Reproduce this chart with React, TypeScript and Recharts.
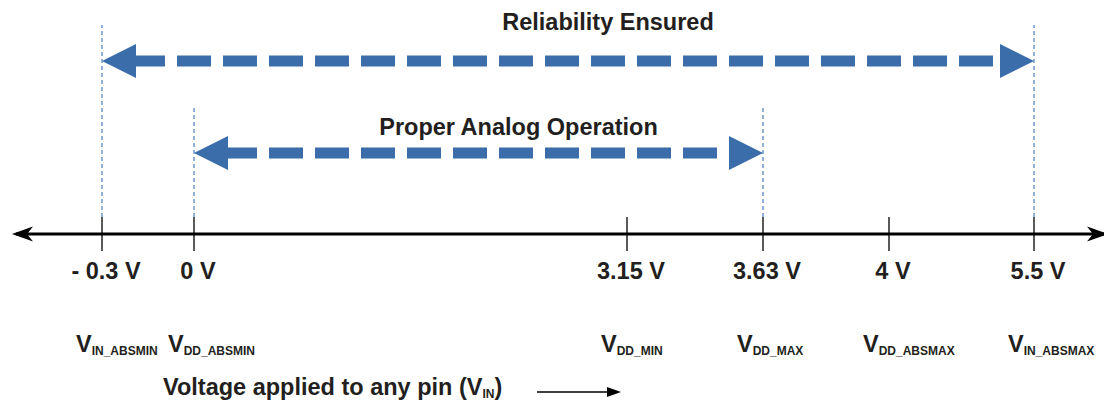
import React from 'react';
import { ComposedChart, XAxis, YAxis, ReferenceLine, Label } from 'recharts';

// The diagram is schematic (not to scale): each voltage sits at a slot along the axis.
const markerVoltages = ['- 0.3 V', '0 V', '3.15 V', '3.63 V', '4 V', '5.5 V'];
const markerSymbols = ['IN_ABSMIN', 'DD_ABSMIN', 'DD_MIN', 'DD_MAX', 'DD_ABSMAX', 'IN_ABSMAX'];
const markerSlots = [102, 194, 627, 763, 889, 1034];

// Ranges (indices into the markers)
const rangeTitles = ['Reliability Ensured', 'Proper Analog Operation'];
const rangeFrom = [0, 1];
const rangeTo = [5, 3];

const axisTitleText = 'Voltage applied to any pin (V';
const axisTitleSub = 'IN';

// layout / styling
const CHART_W = 1104;
const CHART_H = 402;
const AXIS_H = 168;
const AXIS_EXTENT = [12, 1108];
const RANGE_LEVEL = [173, 81];
const RANGE_GUIDE_TOP = [209, 127];
const RANGE_TITLE_DY = [31, 18];
const FONT = '"Liberation Sans", Arial, Helvetica, sans-serif';
const TEXT = '#231f20';
const BLUE = '#3a6daa';
const GUIDE = '#4a7ebb';
const BIG = 23.5;
const SUB = 12;

const MarkerTick = (props: any) => {
  const { x, y, payload } = props;
  const i = markerSlots.indexOf(payload.value);
  if (i < 0) return null;
  return (
    <g>
      <line x1={x} x2={x} y1={y - 17} y2={y + 17} stroke="#000" strokeWidth={1.3} />
      <text
        x={x + 4}
        y={y + 45}
        textAnchor="middle"
        fontFamily={FONT}
        fontWeight="bold"
        fontSize={BIG}
        fill={TEXT}
      >
        {markerVoltages[i]}
      </text>
      <text x={x - 26} y={y + 118} textAnchor="start" fontFamily={FONT} fontWeight="bold" fill={TEXT}>
        <tspan fontSize={BIG}>V</tspan>
        <tspan fontSize={SUB} dy={3}>
          {markerSymbols[i]}
        </tspan>
      </text>
    </g>
  );
};

const axisLineShape = (p: any) => {
  const { x1, x2, y1 } = p;
  const y = y1;
  return (
    <g>
      <line x1={x1 + 4} x2={x2 - 4} y1={y} y2={y} stroke="#000" strokeWidth={3} />
      <path d={`M${x1},${y} L${x1 + 21},${y - 7.5} L${x1 + 15},${y} L${x1 + 21},${y + 7.5} Z`} fill="#000" />
      <path d={`M${x2},${y} L${x2 - 21},${y - 7.5} L${x2 - 15},${y} L${x2 - 21},${y + 7.5} Z`} fill="#000" />
    </g>
  );
};

const makeRangeArrow = (title: string, titleDy: number) => (p: any) => {
  const { x1, x2, y1 } = p;
  const L = Math.min(x1, x2);
  const R = Math.max(x1, x2);
  const y = y1;
  const head = 34;
  const half = 17;
  return (
    <g>
      <line
        x1={L + head}
        x2={R - head}
        y1={y}
        y2={y}
        stroke={BLUE}
        strokeWidth={11}
        strokeDasharray="34 12"
        strokeDashoffset={5}
      />
      <polygon points={`${L},${y} ${L + head},${y - half} ${L + head},${y + half}`} fill={BLUE} />
      <polygon points={`${R},${y} ${R - head},${y - half} ${R - head},${y + half}`} fill={BLUE} />
      <text
        x={(L + R) / 2 + 40}
        y={y - titleDy}
        textAnchor="middle"
        fontFamily={FONT}
        fontWeight="bold"
        fontSize={BIG}
        fill={TEXT}
      >
        {title}
      </text>
    </g>
  );
};

const AxisTitle = (props: any) => {
  const vb = props.viewBox || { x: 0, y: CHART_H - AXIS_H };
  const bx = vb.x;
  const by = vb.y;
  const ay = by + 158;
  return (
    <g>
      <text x={bx + 163} y={by + 161} fontFamily={FONT} fontWeight="bold" fill={TEXT}>
        <tspan fontSize={BIG}>{axisTitleText}</tspan>
        <tspan fontSize={SUB} dy={3}>
          {axisTitleSub}
        </tspan>
        <tspan fontSize={BIG} dy={-3}>
          )
        </tspan>
      </text>
      <line x1={bx + 537} x2={bx + 608} y1={ay} y2={ay} stroke="#000" strokeWidth={1.3} />
      <polygon points={`${bx + 621},${ay} ${bx + 607},${ay - 5} ${bx + 607},${ay + 5}`} fill="#000" />
    </g>
  );
};

const rows = markerSlots.map((s, i) => ({ slot: s, voltage: markerVoltages[i], symbol: markerSymbols[i] }));

export default function App() {
  return (
    <div style={{ position: 'absolute', left: 0, top: 0, width: CHART_W, height: CHART_H, background: '#fff' }}>
      <ComposedChart width={CHART_W} height={CHART_H} data={rows} margin={{ top: 0, right: 0, bottom: 0, left: 0 }}>
        <XAxis
          type="number"
          dataKey="slot"
          domain={[0, CHART_W]}
          ticks={markerSlots}
          interval={0}
          tick={<MarkerTick />}
          tickLine={false}
          axisLine={false}
          tickSize={0}
          tickMargin={0}
          height={AXIS_H}
          allowDataOverflow
          label={<Label content={AxisTitle} />}
        />
        <YAxis type="number" domain={[0, CHART_H - AXIS_H]} hide allowDataOverflow />
        <ReferenceLine
          segment={[
            { x: AXIS_EXTENT[0], y: 0 },
            { x: AXIS_EXTENT[1], y: 0 },
          ]}
          ifOverflow="visible"
          shape={axisLineShape}
        />
        {rangeTitles.map((t, r) =>
          [rangeFrom[r], rangeTo[r]].map((mi) => (
            <ReferenceLine
              key={`g-${r}-${mi}`}
              segment={[
                { x: markerSlots[mi], y: 17 },
                { x: markerSlots[mi], y: RANGE_GUIDE_TOP[r] },
              ]}
              ifOverflow="visible"
              stroke={GUIDE}
              strokeWidth={1.2}
              strokeDasharray="4 3"
            />
          ))
        )}
        {rangeTitles.map((t, r) => (
          <ReferenceLine
            key={`r-${r}`}
            segment={[
              { x: markerSlots[rangeFrom[r]], y: RANGE_LEVEL[r] },
              { x: markerSlots[rangeTo[r]], y: RANGE_LEVEL[r] },
            ]}
            ifOverflow="visible"
            shape={makeRangeArrow(t, RANGE_TITLE_DY[r])}
          />
        ))}
      </ComposedChart>
    </div>
  );
}
